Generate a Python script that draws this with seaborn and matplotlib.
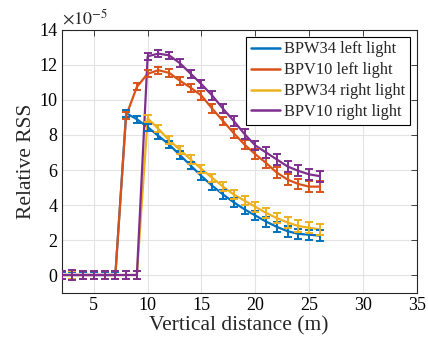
import numpy as np
import pandas as pd
import matplotlib
matplotlib.use("Agg")
import matplotlib.pyplot as plt
import seaborn as sns

# distance (m) and relative RSS values (units of 1e-5)
distance = [2, 3, 4, 5, 6, 7, 8, 9, 10, 11, 12, 13, 14, 15, 16, 17, 18, 19, 20, 21, 22, 23, 24, 25, 26]

bpw34_left = [0, 0, 0, 0, 0, 0, 9.25, 8.9, 8.45, 7.95, 7.45, 6.85, 6.25, 5.65, 5.1, 4.6,
              4.15, 3.75, 3.4, 3.05, 2.75, 2.5, 2.35, 2.3, 2.25]
bpv10_left = [0, 0, 0, 0, 0, 0, 9.1, 10.75, 11.5, 11.7, 11.55, 11.1, 10.7, 10.25, 9.5, 8.8,
              8.1, 7.45, 6.9, 6.4, 5.85, 5.45, 5.2, 5.05, 5.05]
bpw34_right = [0, 0, 0, 0, 0, 0, 0, 0, 8.95, 8.35, 7.7, 7.15, 6.6, 6.05, 5.55, 5.05,
               4.6, 4.25, 3.9, 3.55, 3.25, 3.0, 2.8, 2.7, 2.6]
bpv10_right = [0, 0, 0, 0, 0, 0, 0, 0, 12.5, 12.65, 12.55, 12.1, 11.5, 10.9, 10.25, 9.5,
               8.8, 8.05, 7.4, 7.0, 6.6, 6.2, 5.95, 5.75, 5.65]

err_bpw34_left = [0.2, 0.2, 0.2, 0.2, 0.2, 0.2, 0.2, 0.2, 0.2, 0.2, 0.2, 0.22, 0.22, 0.24, 0.24,
                  0.25, 0.25, 0.26, 0.27, 0.28, 0.28, 0.3, 0.3, 0.3, 0.3]
err_bpv10_left = [0.25, 0.25, 0.25, 0.25, 0.25, 0.25, 0.2, 0.2, 0.2, 0.2, 0.22, 0.22, 0.24, 0.24,
                  0.25, 0.25, 0.26, 0.27, 0.28, 0.28, 0.3, 0.3, 0.3, 0.32, 0.32]
err_bpw34_right = [0.25, 0.25, 0.25, 0.25, 0.25, 0.25, 0.25, 0.25, 0.2, 0.2, 0.22, 0.22, 0.24,
                   0.24, 0.25, 0.25, 0.26, 0.27, 0.28, 0.3, 0.3, 0.32, 0.32, 0.32, 0.32]
err_bpv10_right = [0.25, 0.3, 0.25, 0.25, 0.25, 0.25, 0.25, 0.25, 0.2, 0.2, 0.22, 0.22, 0.24,
                   0.24, 0.25, 0.25, 0.26, 0.27, 0.28, 0.3, 0.3, 0.3, 0.32, 0.32, 0.32]

labels = ["BPW34 left light", "BPV10 left light", "BPW34 right light", "BPV10 right light"]
colors = ["#0072BD", "#D95319", "#EDB120", "#7E2F8E"]
series = [bpw34_left, bpv10_left, bpw34_right, bpv10_right]
errors = [err_bpw34_left, err_bpv10_left, err_bpw34_right, err_bpv10_right]

df = pd.concat([pd.DataFrame({"distance": distance, "rss": s, "err": e, "sensor": lab})
                for s, e, lab in zip(series, errors, labels)], ignore_index=True)

sns.set_theme(style="whitegrid")
plt.rcParams["font.family"] = ["Liberation Serif", "DejaVu Serif"]
plt.rcParams["mathtext.fontset"] = "stix"

fig = plt.figure(figsize=(4.28, 3.44), dpi=100)
ax = fig.add_axes([0.1437, 0.1497, 0.8303, 0.7631])

sns.lineplot(data=df, x="distance", y="rss", hue="sensor", hue_order=labels,
             palette=colors, linewidth=1.6, ax=ax, zorder=3)
for lab, c in zip(labels, colors):
    d = df[df["sensor"] == lab]
    ax.errorbar(d["distance"], d["rss"], yerr=d["err"], fmt="none", ecolor=c,
                elinewidth=1.4, capsize=3, capthick=1.4, zorder=3)

ax.set_xlim(2, 35)
ax.set_ylim(-1, 14)
ax.set_xticks([5, 10, 15, 20, 25, 30, 35])
ax.set_yticks([0, 2, 4, 6, 8, 10, 12, 14])
ax.set_xlabel("Vertical distance (m)", fontsize=15.5, labelpad=2)
ax.set_ylabel("Relative RSS", fontsize=15.5, labelpad=2)
ax.text(0.0, 1.005, r"$\times 10^{-5}$", transform=ax.transAxes, fontsize=13,
        ha="left", va="bottom")

ax.grid(True, color="#e3e3e3", linewidth=0.8)
ax.set_facecolor("white")
for sp in ax.spines.values():
    sp.set_color("#262626")
    sp.set_linewidth(0.8)
ax.tick_params(direction="in", length=4, width=0.6, color="#262626", labelsize=13,
               top=True, right=True, pad=3, labelcolor="black")

leg = ax.legend(loc="upper right", fontsize=11.8, frameon=True, fancybox=False,
                borderpad=0.3, labelspacing=0.3, handlelength=1.8, handletextpad=0.25,
                borderaxespad=0.4)
leg.get_frame().set_edgecolor("black")
leg.get_frame().set_linewidth(0.8)
leg.get_frame().set_alpha(1)
for h in leg.get_lines():
    h.set_linewidth(1.8)

fig.savefig("out.png", dpi=100)
